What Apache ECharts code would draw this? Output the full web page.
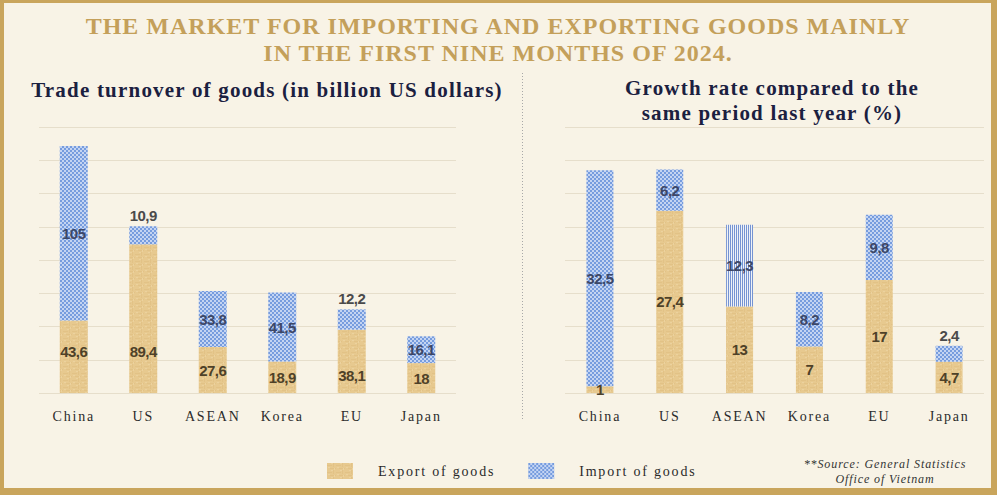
<!DOCTYPE html>
<html><head><meta charset="utf-8">
<script src="https://cdn.jsdelivr.net/npm/echarts@6/dist/echarts.min.js"></script>
<style>
html,body{margin:0;padding:0;background:#F8F3E6;}
#c{width:997px;height:495px;}
#c text[style*="24px"]{letter-spacing:1px;}
#c text[style*="21px"]{letter-spacing:1.2px;}
#c text[style*="14px"]{letter-spacing:1.8px;}
#c text[style*="12px"]{letter-spacing:0.9px;}
#c text[style*="15px"]{letter-spacing:-0.5px;}
</style></head><body><div id="c"></div>
<script>
// ---- data ----
const categories = ['China', 'US', 'ASEAN', 'Korea', 'EU', 'Japan'];
const turnoverExport = [43.6, 89.4, 27.6, 18.9, 38.1, 18];
const turnoverImport = [105, 10.9, 33.8, 41.5, 12.2, 16.1];
const growthExport = [1, 27.4, 13, 7, 17, 4.7];
const growthImport = [32.5, 6.2, 12.3, 8.2, 9.8, 2.4];
const turnoverAxis = { min: 0, max: 160, interval: 20 };
const growthAxis = { min: 0, max: 40, interval: 5 };
const seriesNames = ['Export of goods', 'Import of goods'];

// ---- patterns ----
function tile(w, h, draw) {
  const c = document.createElement('canvas'); c.width = w; c.height = h;
  draw(c.getContext('2d')); return c.toDataURL();
}
const exportImg = tile(9, 7, g => {
  g.fillStyle = '#E7C98F'; g.fillRect(0, 0, 9, 7);
  g.fillStyle = '#E2C286'; g.fillRect(0, 2, 5, 1); g.fillRect(6, 0, 1, 4); g.fillRect(3, 5, 6, 1);
  g.fillStyle = '#ECD29E'; g.fillRect(1, 4, 2, 1); g.fillRect(7, 5, 1, 2); g.fillRect(4, 0, 2, 1);
});
const importImg = tile(4, 4, g => {
  g.fillStyle = '#C4D4F2'; g.fillRect(0, 0, 4, 4);
  g.fillStyle = '#769CDE'; g.fillRect(0, 0, 2, 2); g.fillRect(2, 2, 2, 2);
});
const stripeImg = tile(2, 2, g => {
  g.fillStyle = '#EEF1F7'; g.fillRect(0, 0, 2, 2);
  g.fillStyle = '#7593D2'; g.fillRect(0, 0, 1, 2);
});
const pat = (img, w, h) => ({ image: img, repeat: 'repeat', imageWidth: w, imageHeight: h });
const exportFill = pat(exportImg, 9, 7);
const importFill = pat(importImg, 4, 4);
const stripeFill = pat(stripeImg, 2, 2);

const fmt = v => String(v).replace('.', ',');
const numFont = "'Liberation Sans', Arial, sans-serif";
const serif = "'Liberation Serif', 'DejaVu Serif', serif";

// ---- layout ----
const gridTop = 127, gridBottom = 102, plotH = 495 - gridTop - gridBottom;
const grids = [
  { left: 39, right: 541, top: gridTop, bottom: gridBottom },
  { left: 565, right: 13, top: gridTop, bottom: gridBottom }
];
const axes = [turnoverAxis, growthAxis];

function importData(vals, axisIdx, stripeCat) {
  const pxPerUnit = plotH / axes[axisIdx].max;
  return vals.map((v, i) => {
    const small = v * pxPerUnit < 24;
    const item = {
      value: v,
      label: small
        ? { position: 'top', distance: 3, color: '#4A4A4A' }
        : { position: 'inside', color: '#3D4767' }
    };
    if (categories[i] === stripeCat) item.itemStyle = { color: stripeFill };
    return item;
  });
}
const leftExportLift = { China: 34, US: 34, EU: 10 };
function exportData(vals, lift) {
  return vals.map((v, i) => {
    const d = lift && lift[categories[i]];
    return d != null
      ? { value: v, label: { position: 'insideBottom', distance: d } }
      : { value: v };
  });
}

const labelBase = { show: true, fontFamily: numFont, fontWeight: 'bold', fontSize: 15, formatter: p => fmt(p.value) };

const option = {
  backgroundColor: '#F8F3E6',
  animation: false,
  grid: grids.map(g => Object.assign({ containLabel: false, outerBoundsMode: 'none' }, g)),
  xAxis: [0, 1].map(i => ({
    type: 'category', gridIndex: i, data: categories,
    axisLine: { show: false }, axisTick: { show: false },
    axisLabel: { margin: 16, color: '#2B2B2B', fontFamily: serif, fontSize: 14 }
  })),
  yAxis: [0, 1].map(i => ({
    type: 'value', gridIndex: i, min: axes[i].min, max: axes[i].max, interval: axes[i].interval,
    axisLabel: { show: false }, axisLine: { show: false }, axisTick: { show: false },
    splitLine: { show: true, lineStyle: { color: '#E6DECB', width: 1 } }
  })),
  legend: {
    left: 322, top: 458, itemWidth: 26, itemHeight: 16, itemGap: 60, icon: 'rect',
    selectedMode: false, data: seriesNames,
    textStyle: { fontFamily: serif, fontSize: 14, color: '#2A2A2A', padding: [0, 0, 0, 20] }
  },
  series: [
    {
      name: seriesNames[0], type: 'bar', stack: 'a', xAxisIndex: 0, yAxisIndex: 0, barWidth: 28,
      data: exportData(turnoverExport, leftExportLift), itemStyle: { color: exportFill },
      label: Object.assign({ position: 'inside', color: '#4E4128' }, labelBase), emphasis: { disabled: true }
    },
    {
      name: seriesNames[1], type: 'bar', stack: 'a', xAxisIndex: 0, yAxisIndex: 0, barWidth: 28,
      data: importData(turnoverImport, 0, null), itemStyle: { color: importFill },
      label: Object.assign({}, labelBase), emphasis: { disabled: true }
    },
    {
      name: seriesNames[0], type: 'bar', stack: 'b', xAxisIndex: 1, yAxisIndex: 1, barWidth: 27,
      data: exportData(growthExport, null), itemStyle: { color: exportFill },
      label: Object.assign({ position: 'inside', color: '#4E4128' }, labelBase), emphasis: { disabled: true }
    },
    {
      name: seriesNames[1], type: 'bar', stack: 'b', xAxisIndex: 1, yAxisIndex: 1, barWidth: 27,
      data: importData(growthImport, 1, 'ASEAN'), itemStyle: { color: importFill },
      label: Object.assign({}, labelBase), emphasis: { disabled: true }
    }
  ],
  graphic: [
    { type: 'rect', shape: { x: 0, y: 0, width: 997, height: 3 }, style: { fill: '#C9A55C' }, silent: true },
    { type: 'rect', shape: { x: 0, y: 0, width: 4, height: 495 }, style: { fill: '#C9A55C' }, silent: true },
    { type: 'rect', shape: { x: 991, y: 0, width: 6, height: 495 }, style: { fill: '#C9A55C' }, silent: true },
    { type: 'rect', shape: { x: 0, y: 488, width: 997, height: 7 }, style: { fill: '#C9A55C' }, silent: true },
    { type: 'line', shape: { x1: 522.5, y1: 73, x2: 522.5, y2: 420 }, style: { stroke: '#A8A8A8', lineWidth: 1, lineDash: [1, 2] }, silent: true },
    { type: 'text', x: 498, y: 26, style: { text: 'THE MARKET FOR IMPORTING AND EXPORTING GOODS MAINLY', font: "bold 24px 'Liberation Serif'", fill: '#C4A05A', textAlign: 'center', textVerticalAlign: 'middle' } },
    { type: 'text', x: 498, y: 53, style: { text: 'IN THE FIRST NINE MONTHS OF 2024.', font: "bold 24px 'Liberation Serif'", fill: '#C4A05A', textAlign: 'center', textVerticalAlign: 'middle' } },
    { type: 'text', x: 267, y: 90, style: { text: 'Trade turnover of goods (in billion US dollars)', font: "bold 21px 'Liberation Serif'", fill: '#1B2040', textAlign: 'center', textVerticalAlign: 'middle' } },
    { type: 'text', x: 772, y: 88, style: { text: 'Growth rate compared to the', font: "bold 21px 'Liberation Serif'", fill: '#1B2040', textAlign: 'center', textVerticalAlign: 'middle' } },
    { type: 'text', x: 772, y: 113, style: { text: 'same period last year (%)', font: "bold 21px 'Liberation Serif'", fill: '#1B2040', textAlign: 'center', textVerticalAlign: 'middle' } },
    { type: 'text', x: 885, y: 464, style: { text: '**Source: General Statistics', font: "italic 12px 'Liberation Serif'", fill: '#333333', textAlign: 'center', textVerticalAlign: 'middle' } },
    { type: 'text', x: 885, y: 479, style: { text: 'Office of Vietnam', font: "italic 12px 'Liberation Serif'", fill: '#333333', textAlign: 'center', textVerticalAlign: 'middle' } }
  ]
};
const chart = echarts.init(document.getElementById('c'), null, { renderer: 'svg' });
chart.setOption(option);
</script>
</body></html>
